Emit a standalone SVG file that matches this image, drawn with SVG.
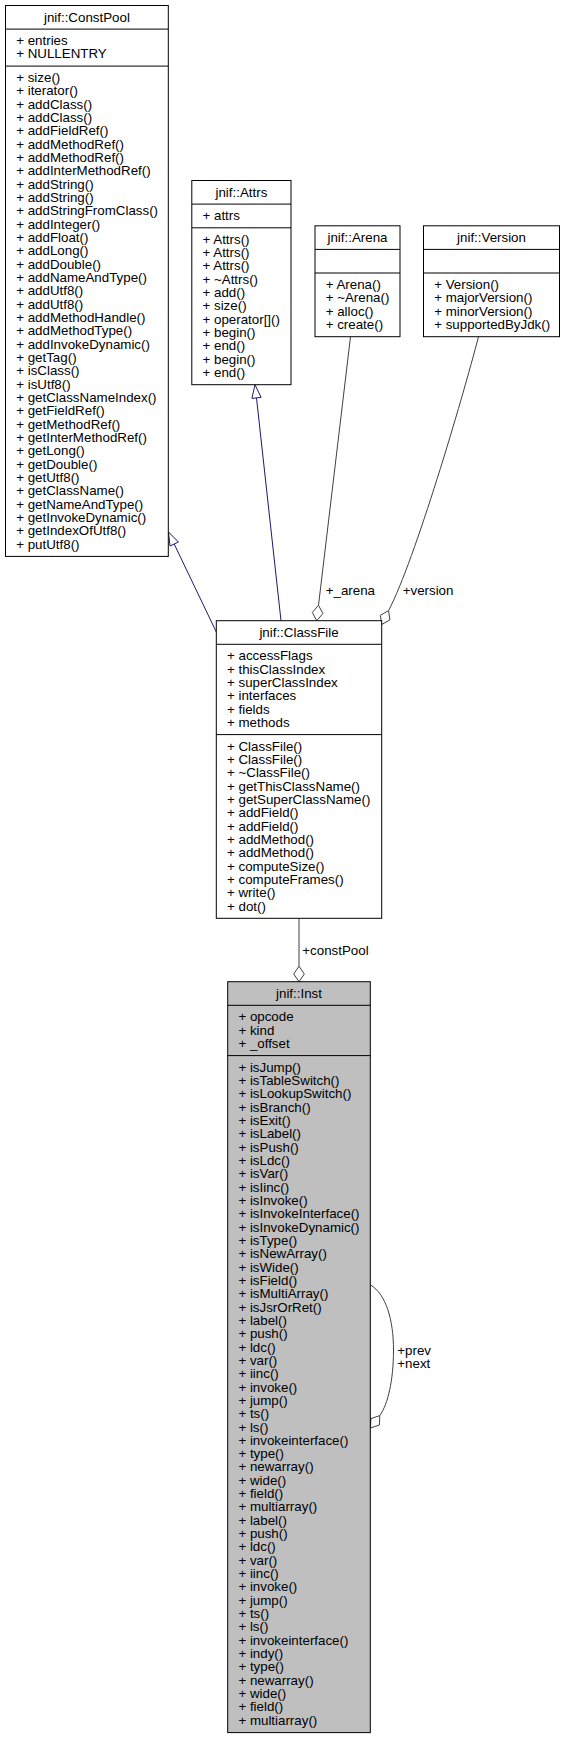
<svg xmlns="http://www.w3.org/2000/svg" width="566" height="1740" viewBox="0 0 566 1740">
<style>
text{font-family:"Liberation Sans",Helvetica,Arial,sans-serif;font-size:13.33px;fill:#000}
.t{text-anchor:middle}
.box{fill:#fff;stroke:#000;stroke-width:1}
.cur{fill:#bfbfbf;stroke:#000;stroke-width:1}
.sep{stroke:#000;stroke-width:1}
.inh{fill:none;stroke:#191970;stroke-width:1}
.inha{fill:#fff;stroke:#191970;stroke-width:1}
.use{fill:none;stroke:#404040;stroke-width:1}
.usea{fill:#fff;stroke:#404040;stroke-width:1}
</style>
<rect width="566" height="1740" fill="#fff"/>
<g id="connectors">
<path class="inh" d="M216.3,632 L174.2,544"/>
<polygon class="inha" points="168.5,532 178.4,542 170,546"/>
<path class="inh" d="M281,620.7 L256.5,397.9"/>
<polygon class="inha" points="255,384.7 261.1,397.4 251.9,398.4"/>
<path class="use" d="M350.5,336.7 L318.5,605.3"/>
<polygon class="usea" points="316.7,620.7 312.3,612.4 318.5,605.3 322.9,613.6"/>
<text x="325.7" y="594.5">+_arena</text>
<path class="use" d="M478.5,336.7 C462,400 415,560 388.6,610.6"/>
<polygon class="usea" points="381.7,624.5 380.4,615.3 388.6,610.6 389.9,619.9"/>
<text x="402.7" y="594.5">+version</text>
<path class="use" d="M299,918.3 L299,966.2"/>
<polygon class="usea" points="299,981.7 293.7,974 299,966.2 304.3,974"/>
<text x="302.3" y="954.5">+constPool</text>
<path class="use" d="M370.5,1285 C386,1294 393.5,1320 393.5,1350 C393.5,1380 388,1404 379.8,1415.6"/>
<polygon class="usea" points="370.5,1428 370.9,1418.6 379.8,1415.6 379.4,1425"/>
<text x="397.3" y="1355">+prev</text>
<text x="397.3" y="1368.3">+next</text>
</g>
<g id="ConstPool">
<rect class="box" x="5.5" y="5.5" width="162.8" height="550.9"/>
<line class="sep" x1="5.5" y1="29.1" x2="168.3" y2="29.1"/>
<line class="sep" x1="5.5" y1="66.1" x2="168.3" y2="66.1"/>
<text class="t" x="86.9" y="21.8">jnif::ConstPool</text>
<text x="16.2" y="45.1"><tspan x="16.2">+ entries</tspan><tspan x="16.2" dy="13.33">+ NULLENTRY</tspan></text>
<text x="16.2" y="82.1"><tspan x="16.2">+ size()</tspan><tspan x="16.2" dy="13.33">+ iterator()</tspan><tspan x="16.2" dy="13.33">+ addClass()</tspan><tspan x="16.2" dy="13.33">+ addClass()</tspan><tspan x="16.2" dy="13.33">+ addFieldRef()</tspan><tspan x="16.2" dy="13.33">+ addMethodRef()</tspan><tspan x="16.2" dy="13.33">+ addMethodRef()</tspan><tspan x="16.2" dy="13.33">+ addInterMethodRef()</tspan><tspan x="16.2" dy="13.33">+ addString()</tspan><tspan x="16.2" dy="13.33">+ addString()</tspan><tspan x="16.2" dy="13.33">+ addStringFromClass()</tspan><tspan x="16.2" dy="13.33">+ addInteger()</tspan><tspan x="16.2" dy="13.33">+ addFloat()</tspan><tspan x="16.2" dy="13.33">+ addLong()</tspan><tspan x="16.2" dy="13.33">+ addDouble()</tspan><tspan x="16.2" dy="13.33">+ addNameAndType()</tspan><tspan x="16.2" dy="13.33">+ addUtf8()</tspan><tspan x="16.2" dy="13.33">+ addUtf8()</tspan><tspan x="16.2" dy="13.33">+ addMethodHandle()</tspan><tspan x="16.2" dy="13.33">+ addMethodType()</tspan><tspan x="16.2" dy="13.33">+ addInvokeDynamic()</tspan><tspan x="16.2" dy="13.33">+ getTag()</tspan><tspan x="16.2" dy="13.33">+ isClass()</tspan><tspan x="16.2" dy="13.33">+ isUtf8()</tspan><tspan x="16.2" dy="13.33">+ getClassNameIndex()</tspan><tspan x="16.2" dy="13.33">+ getFieldRef()</tspan><tspan x="16.2" dy="13.33">+ getMethodRef()</tspan><tspan x="16.2" dy="13.33">+ getInterMethodRef()</tspan><tspan x="16.2" dy="13.33">+ getLong()</tspan><tspan x="16.2" dy="13.33">+ getDouble()</tspan><tspan x="16.2" dy="13.33">+ getUtf8()</tspan><tspan x="16.2" dy="13.33">+ getClassName()</tspan><tspan x="16.2" dy="13.33">+ getNameAndType()</tspan><tspan x="16.2" dy="13.33">+ getInvokeDynamic()</tspan><tspan x="16.2" dy="13.33">+ getIndexOfUtf8()</tspan><tspan x="16.2" dy="13.33">+ putUtf8()</tspan></text>
</g>
<g id="Attrs">
<rect class="box" x="191.8" y="180.5" width="99.2" height="204.2"/>
<line class="sep" x1="191.8" y1="204.1" x2="291" y2="204.1"/>
<line class="sep" x1="191.8" y1="227.8" x2="291" y2="227.8"/>
<text class="t" x="241.4" y="196.8">jnif::Attrs</text>
<text x="202.5" y="220.1">+ attrs</text>
<text x="202.5" y="243.8"><tspan x="202.5">+ Attrs()</tspan><tspan x="202.5" dy="13.33">+ Attrs()</tspan><tspan x="202.5" dy="13.33">+ Attrs()</tspan><tspan x="202.5" dy="13.33">+ ~Attrs()</tspan><tspan x="202.5" dy="13.33">+ add()</tspan><tspan x="202.5" dy="13.33">+ size()</tspan><tspan x="202.5" dy="13.33">+ operator[]()</tspan><tspan x="202.5" dy="13.33">+ begin()</tspan><tspan x="202.5" dy="13.33">+ end()</tspan><tspan x="202.5" dy="13.33">+ begin()</tspan><tspan x="202.5" dy="13.33">+ end()</tspan></text>
</g>
<g id="Arena">
<rect class="box" x="315" y="225.8" width="85" height="110.9"/>
<line class="sep" x1="315" y1="249.4" x2="400" y2="249.4"/>
<line class="sep" x1="315" y1="273" x2="400" y2="273"/>
<text class="t" x="357.5" y="242.1">jnif::Arena</text>
<text x="325.7" y="289"><tspan x="325.7">+ Arena()</tspan><tspan x="325.7" dy="13.33">+ ~Arena()</tspan><tspan x="325.7" dy="13.33">+ alloc()</tspan><tspan x="325.7" dy="13.33">+ create()</tspan></text>
</g>
<g id="Version">
<rect class="box" x="423.5" y="225.8" width="136" height="110.9"/>
<line class="sep" x1="423.5" y1="249.4" x2="559.5" y2="249.4"/>
<line class="sep" x1="423.5" y1="273" x2="559.5" y2="273"/>
<text class="t" x="491.5" y="242.1">jnif::Version</text>
<text x="434.2" y="289"><tspan x="434.2">+ Version()</tspan><tspan x="434.2" dy="13.33">+ majorVersion()</tspan><tspan x="434.2" dy="13.33">+ minorVersion()</tspan><tspan x="434.2" dy="13.33">+ supportedByJdk()</tspan></text>
</g>
<g id="ClassFile">
<rect class="box" x="216.3" y="620.7" width="165.4" height="297.6"/>
<line class="sep" x1="216.3" y1="644.3" x2="381.7" y2="644.3"/>
<line class="sep" x1="216.3" y1="734.6" x2="381.7" y2="734.6"/>
<text class="t" x="299" y="637">jnif::ClassFile</text>
<text x="227" y="660.3"><tspan x="227">+ accessFlags</tspan><tspan x="227" dy="13.33">+ thisClassIndex</tspan><tspan x="227" dy="13.33">+ superClassIndex</tspan><tspan x="227" dy="13.33">+ interfaces</tspan><tspan x="227" dy="13.33">+ fields</tspan><tspan x="227" dy="13.33">+ methods</tspan></text>
<text x="227" y="750.6"><tspan x="227">+ ClassFile()</tspan><tspan x="227" dy="13.33">+ ClassFile()</tspan><tspan x="227" dy="13.33">+ ~ClassFile()</tspan><tspan x="227" dy="13.33">+ getThisClassName()</tspan><tspan x="227" dy="13.33">+ getSuperClassName()</tspan><tspan x="227" dy="13.33">+ addField()</tspan><tspan x="227" dy="13.33">+ addField()</tspan><tspan x="227" dy="13.33">+ addMethod()</tspan><tspan x="227" dy="13.33">+ addMethod()</tspan><tspan x="227" dy="13.33">+ computeSize()</tspan><tspan x="227" dy="13.33">+ computeFrames()</tspan><tspan x="227" dy="13.33">+ write()</tspan><tspan x="227" dy="13.33">+ dot()</tspan></text>
</g>
<g id="Inst">
<rect class="cur" x="227.7" y="981.7" width="142.6" height="750.9"/>
<line class="sep" x1="227.7" y1="1005.3" x2="370.3" y2="1005.3"/>
<line class="sep" x1="227.7" y1="1055.6" x2="370.3" y2="1055.6"/>
<text class="t" x="299" y="998">jnif::Inst</text>
<text x="238.4" y="1021.3"><tspan x="238.4">+ opcode</tspan><tspan x="238.4" dy="13.33">+ kind</tspan><tspan x="238.4" dy="13.33">+ _offset</tspan></text>
<text x="238.4" y="1071.6"><tspan x="238.4">+ isJump()</tspan><tspan x="238.4" dy="13.33">+ isTableSwitch()</tspan><tspan x="238.4" dy="13.33">+ isLookupSwitch()</tspan><tspan x="238.4" dy="13.33">+ isBranch()</tspan><tspan x="238.4" dy="13.33">+ isExit()</tspan><tspan x="238.4" dy="13.33">+ isLabel()</tspan><tspan x="238.4" dy="13.33">+ isPush()</tspan><tspan x="238.4" dy="13.33">+ isLdc()</tspan><tspan x="238.4" dy="13.33">+ isVar()</tspan><tspan x="238.4" dy="13.33">+ isIinc()</tspan><tspan x="238.4" dy="13.33">+ isInvoke()</tspan><tspan x="238.4" dy="13.33">+ isInvokeInterface()</tspan><tspan x="238.4" dy="13.33">+ isInvokeDynamic()</tspan><tspan x="238.4" dy="13.33">+ isType()</tspan><tspan x="238.4" dy="13.33">+ isNewArray()</tspan><tspan x="238.4" dy="13.33">+ isWide()</tspan><tspan x="238.4" dy="13.33">+ isField()</tspan><tspan x="238.4" dy="13.33">+ isMultiArray()</tspan><tspan x="238.4" dy="13.33">+ isJsrOrRet()</tspan><tspan x="238.4" dy="13.33">+ label()</tspan><tspan x="238.4" dy="13.33">+ push()</tspan><tspan x="238.4" dy="13.33">+ ldc()</tspan><tspan x="238.4" dy="13.33">+ var()</tspan><tspan x="238.4" dy="13.33">+ iinc()</tspan><tspan x="238.4" dy="13.33">+ invoke()</tspan><tspan x="238.4" dy="13.33">+ jump()</tspan><tspan x="238.4" dy="13.33">+ ts()</tspan><tspan x="238.4" dy="13.33">+ ls()</tspan><tspan x="238.4" dy="13.33">+ invokeinterface()</tspan><tspan x="238.4" dy="13.33">+ type()</tspan><tspan x="238.4" dy="13.33">+ newarray()</tspan><tspan x="238.4" dy="13.33">+ wide()</tspan><tspan x="238.4" dy="13.33">+ field()</tspan><tspan x="238.4" dy="13.33">+ multiarray()</tspan><tspan x="238.4" dy="13.33">+ label()</tspan><tspan x="238.4" dy="13.33">+ push()</tspan><tspan x="238.4" dy="13.33">+ ldc()</tspan><tspan x="238.4" dy="13.33">+ var()</tspan><tspan x="238.4" dy="13.33">+ iinc()</tspan><tspan x="238.4" dy="13.33">+ invoke()</tspan><tspan x="238.4" dy="13.33">+ jump()</tspan><tspan x="238.4" dy="13.33">+ ts()</tspan><tspan x="238.4" dy="13.33">+ ls()</tspan><tspan x="238.4" dy="13.33">+ invokeinterface()</tspan><tspan x="238.4" dy="13.33">+ indy()</tspan><tspan x="238.4" dy="13.33">+ type()</tspan><tspan x="238.4" dy="13.33">+ newarray()</tspan><tspan x="238.4" dy="13.33">+ wide()</tspan><tspan x="238.4" dy="13.33">+ field()</tspan><tspan x="238.4" dy="13.33">+ multiarray()</tspan></text>
</g>
</svg>
